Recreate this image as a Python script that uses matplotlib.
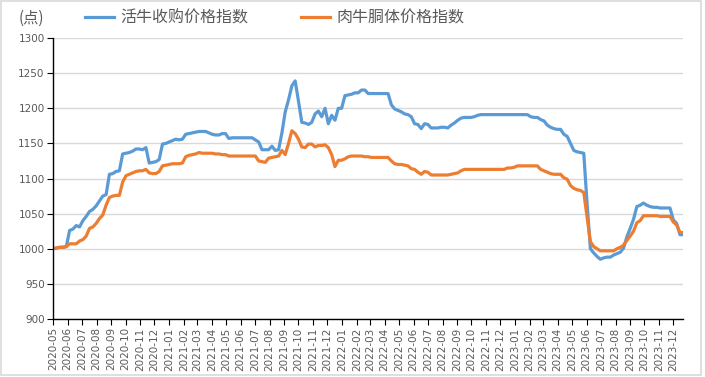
import numpy as np
import pandas as pd
import matplotlib
matplotlib.use("Agg")
import matplotlib.pyplot as plt
import matplotlib.dates as mdates
from matplotlib.patches import Rectangle

plt.rcParams['font.family'] = ['Noto Sans CJK SC', 'DejaVu Sans']

# weekly index values, first week of 2020-05 = 1000
start_date = '2020-05-01'
live_cattle = [
    1000, 1001, 1002, 1002, 1003, 1026, 1028, 1033, 1031, 1040,
    1046, 1053, 1056, 1061, 1068, 1075, 1077, 1106, 1107, 1110,
    1111, 1135, 1136, 1137, 1139, 1142, 1142, 1141, 1144, 1122,
    1123, 1124, 1127, 1149, 1150, 1152, 1154, 1156, 1155, 1156,
    1163, 1164, 1165, 1166, 1167, 1167, 1167, 1165, 1163, 1162,
    1162, 1164, 1164, 1157, 1158, 1158, 1158, 1158, 1158, 1158,
    1158, 1155, 1152, 1141, 1141, 1141, 1146, 1140, 1141, 1165,
    1195, 1212, 1232, 1239, 1210, 1180, 1179, 1177, 1180, 1192,
    1196, 1188, 1200, 1178, 1190, 1183, 1200, 1200, 1218, 1219,
    1220, 1222, 1222, 1226, 1226, 1221, 1221, 1221, 1221, 1221,
    1221, 1221, 1205, 1199, 1197, 1195, 1192, 1191, 1188, 1178,
    1177, 1171, 1178, 1177, 1172, 1172, 1172, 1173, 1173, 1172,
    1176, 1179, 1183, 1186, 1187, 1187, 1187, 1188, 1190, 1191,
    1191, 1191, 1191, 1191, 1191, 1191, 1191, 1191, 1191, 1191,
    1191, 1191, 1191, 1191, 1188, 1187, 1187, 1184, 1182, 1176,
    1173, 1171, 1170, 1170, 1163, 1160, 1150, 1140, 1138, 1137,
    1136, 1064, 1000, 994, 989, 985, 987, 988, 988, 991,
    993, 995, 1001, 1017, 1029, 1042, 1060, 1062, 1065, 1062,
    1060, 1059, 1059, 1058, 1058, 1058, 1058, 1041, 1036, 1020,
    1020,
]
beef_carcass = [
    1000, 1001, 1002, 1002, 1003, 1007, 1007, 1007, 1011, 1013,
    1018, 1029, 1031, 1036, 1043, 1048, 1062, 1073, 1075, 1076,
    1076, 1095, 1104, 1106, 1108, 1110, 1111, 1111, 1113, 1108,
    1107, 1107, 1110, 1118, 1119, 1120, 1121, 1121, 1121, 1122,
    1131, 1133, 1134, 1135, 1137, 1136, 1136, 1136, 1136, 1135,
    1135, 1134, 1134, 1132, 1132, 1132, 1132, 1132, 1132, 1132,
    1132, 1132, 1125, 1124, 1123, 1129, 1130, 1131, 1132, 1140,
    1134, 1150, 1168, 1164, 1156, 1145, 1144, 1149, 1149, 1145,
    1147, 1147, 1148, 1144, 1134, 1117, 1126, 1126, 1128, 1131,
    1132, 1132, 1132, 1132, 1131, 1131, 1130, 1130, 1130, 1130,
    1130, 1130, 1125, 1121, 1120, 1120, 1119, 1118, 1114, 1113,
    1109, 1106, 1110, 1109, 1105, 1105, 1105, 1105, 1105, 1105,
    1106, 1107, 1108, 1111, 1113, 1113, 1113, 1113, 1113, 1113,
    1113, 1113, 1113, 1113, 1113, 1113, 1113, 1115, 1115, 1116,
    1118, 1118, 1118, 1118, 1118, 1118, 1118, 1113, 1111, 1109,
    1107, 1106, 1106, 1106, 1101, 1099, 1090, 1086, 1084, 1083,
    1080, 1045, 1010, 1003, 1000, 997, 997, 997, 997, 997,
    1000, 1002, 1005, 1012, 1018, 1025, 1037, 1040, 1047, 1047,
    1047, 1047, 1047, 1046, 1046, 1046, 1046, 1038, 1034, 1023,
    1023,
]
series_names = ['活牛收购价格指数', '肉牛胴体价格指数']
colors = ['#5B9BD5', '#ED7D31']

dates = pd.date_range(start_date, periods=len(live_cattle), freq='7D')

fig = plt.figure(figsize=(7.05, 3.77), dpi=100)
ax = fig.add_axes([0.0752, 0.154, 0.894, 0.745])

for vals, name, c in zip([live_cattle, beef_carcass], series_names, colors):
    ax.plot(dates, vals, color=c, lw=2.3, label=name, solid_joinstyle='round')

ax.set_ylim(900, 1300)
ax.set_yticks(np.arange(900, 1301, 50))
ax.set_xlim(dates[0], dates[-1])
ax.xaxis.set_major_locator(mdates.MonthLocator())
ax.xaxis.set_major_formatter(mdates.DateFormatter('%Y-%m'))
ax.tick_params(axis='x', rotation=90, labelsize=7.5, labelcolor='#595959',
               length=4, direction='out', color='black', pad=2)
ax.tick_params(axis='y', labelsize=7.5, labelcolor='#595959',
               length=4, direction='out', color='black', pad=2)
for lab in ax.get_xticklabels() + ax.get_yticklabels():
    lab.set_family(['DejaVu Sans'])

ax.grid(axis='y', color='#d9d9d9', lw=1)
ax.set_axisbelow(True)
for s in ['top', 'right']:
    ax.spines[s].set_visible(False)
for s in ['left', 'bottom']:
    ax.spines[s].set_color('black')
    ax.spines[s].set_linewidth(1)

fig.text(0.026, 0.952, '(点)', fontsize=11, color='#595959', va='center')
fig.legend(loc='center', bbox_to_anchor=(0.39, 0.952), ncol=2, frameon=False,
           fontsize=11.5, labelcolor='#595959', handlelength=1.8,
           columnspacing=3.3, handletextpad=0.4)

fig.patches.append(Rectangle((0.002, 0.004), 0.992, 0.993, transform=fig.transFigure,
                             fill=False, edgecolor='#d9d9d9', lw=1.2))

fig.savefig('out.png', dpi=100)
